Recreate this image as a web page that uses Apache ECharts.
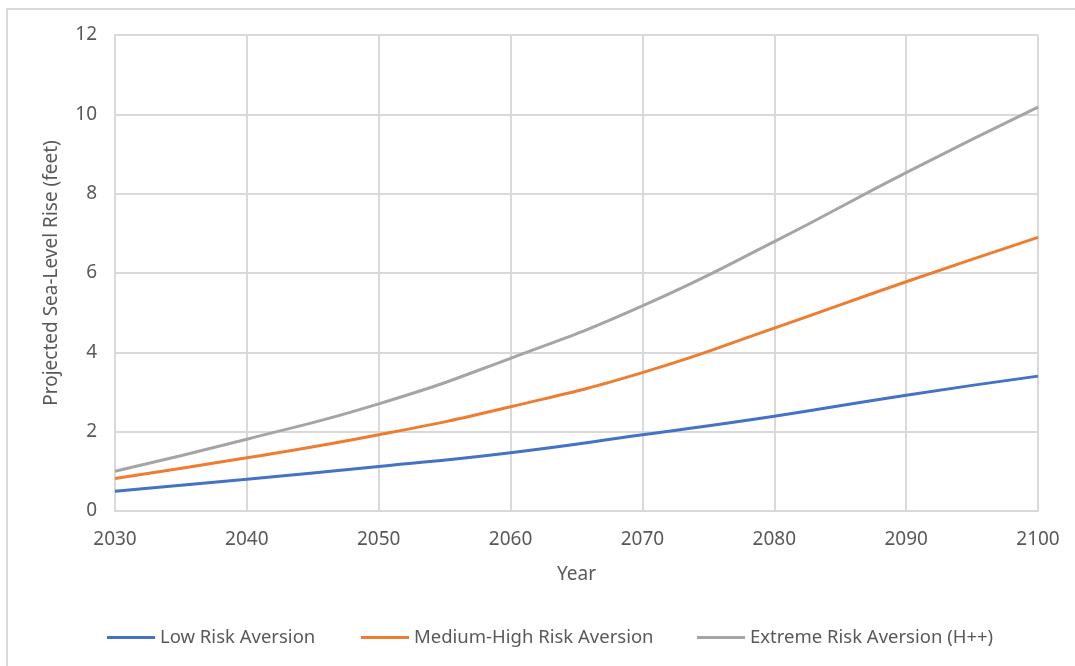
<!DOCTYPE html>
<html>
<head>
<meta charset="utf-8">
<script src="https://cdn.jsdelivr.net/npm/echarts@6/dist/echarts.min.js"></script>
<style>
html, body { margin: 0; padding: 0; background: #fff; }
#main { width: 1075px; height: 666px; }
</style>
</head>
<body>
<div id="main"></div>
<script>
// years read at each decade
var years = [2030, 2040, 2050, 2060, 2070, 2080, 2090, 2100]
var lowRisk = [0.5, 0.8, 1.12, 1.47, 1.92, 2.39, 2.92, 3.4]
var medHighRisk = [0.82, 1.34, 1.92, 2.63, 3.49, 4.61, 5.78, 6.9]
var extremeRisk = [1.0, 1.81, 2.7, 3.85, 5.17, 6.79, 8.53, 10.18]
var seriesNames = ['Low Risk Aversion', 'Medium-High Risk Aversion', 'Extreme Risk Aversion (H++)']

function pairs(vals) {
  return years.map(function(y, i) { return [y, vals[i]] })
}

var chart = echarts.init(document.getElementById('main'))
var font = 'Noto Sans'
var txt = '#595959'
var gridColor = '#d9d9d9'

// one legend per item, Excel spaces them unevenly
function legendAt(name, left) {
  return {
    top: 623,
    left: left,
    itemWidth: 48,
    itemHeight: 3,
    icon: 'rect',
    selectedMode: false,
    textStyle: { color: txt, fontSize: 18.5, fontFamily: font },
    data: [name]
  }
}

var option = {
  backgroundColor: '#fff',
  animation: false,
  textStyle: { fontFamily: font },
  graphic: [
    {
      type: 'rect',
      shape: { x: 7, y: 9, width: 1200, height: 800 },
      style: { fill: 'none', stroke: gridColor, lineWidth: 2 },
      silent: true
    }
  ],
  grid: {
    left: 115,
    right: 37,
    top: 35,
    bottom: 155
  },
  legend: [
    legendAt(seriesNames[0], 102),
    legendAt(seriesNames[1], 356),
    legendAt(seriesNames[2], 692)
  ],
  xAxis: {
    type: 'value',
    min: 2030,
    max: 2100,
    interval: 10,
    name: 'Year',
    nameLocation: 'middle',
    nameGap: 54,
    nameTextStyle: { color: txt, fontSize: 19, fontFamily: font },
    axisLine: { show: true, lineStyle: { color: gridColor, width: 2 } },
    axisTick: { show: false },
    axisLabel: {
      color: txt,
      fontSize: 19,
      margin: 19,
      formatter: function(v) { return String(v) }
    },
    splitLine: { show: true, lineStyle: { color: gridColor, width: 2 } }
  },
  yAxis: {
    type: 'value',
    min: 0,
    max: 12,
    interval: 2,
    name: 'Projected Sea-Level Rise (feet)',
    nameLocation: 'middle',
    nameGap: 54,
    nameTextStyle: { color: txt, fontSize: 19, fontFamily: font },
    axisLine: { show: true, lineStyle: { color: gridColor, width: 2 } },
    axisTick: { show: false },
    axisLabel: { color: txt, fontSize: 19, margin: 18 },
    splitLine: { show: true, lineStyle: { color: gridColor, width: 2 } }
  },
  series: [
    {
      name: seriesNames[0],
      type: 'line',
      smooth: true,
      symbol: 'none',
      lineStyle: { color: '#4472c4', width: 3 },
      itemStyle: { color: '#4472c4' },
      data: pairs(lowRisk)
    },
    {
      name: seriesNames[1],
      type: 'line',
      smooth: true,
      symbol: 'none',
      lineStyle: { color: '#ed7d31', width: 3 },
      itemStyle: { color: '#ed7d31' },
      data: pairs(medHighRisk)
    },
    {
      name: seriesNames[2],
      type: 'line',
      smooth: true,
      symbol: 'none',
      lineStyle: { color: '#a5a5a5', width: 3 },
      itemStyle: { color: '#a5a5a5' },
      data: pairs(extremeRisk)
    }
  ]
}
chart.setOption(option)
</script>
</body>
</html>
